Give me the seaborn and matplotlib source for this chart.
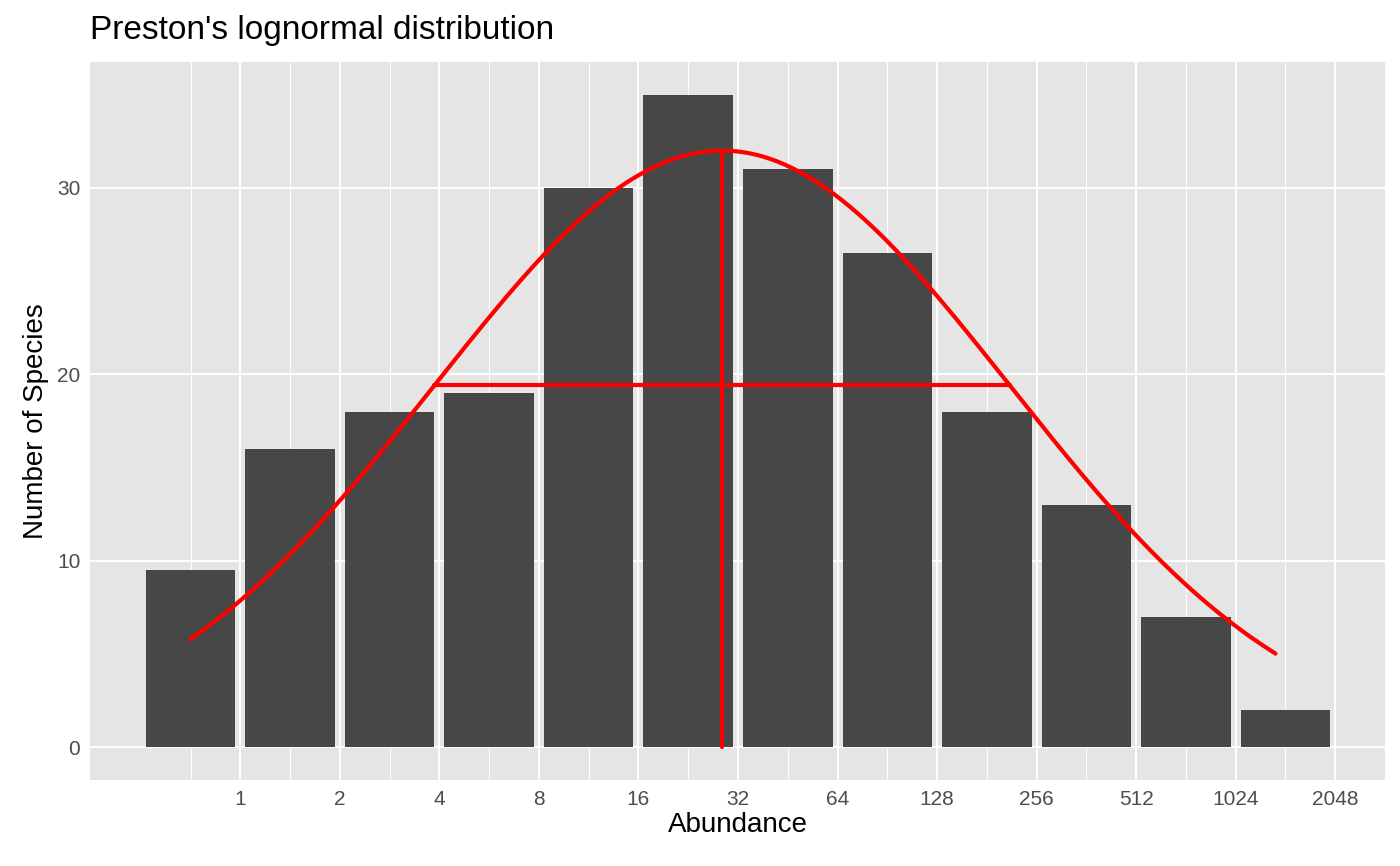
import numpy as np
import pandas as pd
import matplotlib
matplotlib.use("Agg")
import matplotlib.pyplot as plt
import seaborn as sns

octave_mid = [-0.5, 0.5, 1.5, 2.5, 3.5, 4.5, 5.5, 6.5, 7.5, 8.5, 9.5, 10.5]
species = [9.5, 16, 18, 19, 30, 35, 31, 26.5, 18, 13, 7, 2]
tick_labels = ["1", "2", "4", "8", "16", "32", "64", "128", "256", "512", "1024", "2048"]
mu, sigma, peak = 4.84, 2.89, 32.0

sns.set_theme(style="darkgrid", rc={"axes.facecolor": "#e5e5e5", "grid.color": "white"})
plt.rcParams['font.family'] = ['Liberation Sans', 'DejaVu Sans']

fig = plt.figure(figsize=(14, 8.66), dpi=100)
ax = fig.add_axes([90/1400, 1-780/866, (1385-90)/1400, (780-62)/866])

df = pd.DataFrame({"x": octave_mid, "y": species})
sns.barplot(data=df, x="x", y="y", native_scale=True, width=0.9, color="#474747",
            saturation=1, ax=ax, edgecolor="none")

xs = np.linspace(octave_mid[0], octave_mid[-1] - 0.1, 300)
curve = pd.DataFrame({"x": xs, "y": peak * np.exp(-(xs - mu) ** 2 / (2 * sigma ** 2))})
sns.lineplot(data=curve, x="x", y="y", color="red", lw=3, ax=ax)
h = peak * np.exp(-0.5)
ax.plot([mu - sigma, mu + sigma], [h, h], color="red", lw=3)
ax.plot([mu, mu], [0, peak], color="red", lw=3)

ax.set_xlim(-1.51, 11.46)
ax.set_ylim(-1.75, 36.75)
ax.set_xticks(range(0, 12))
ax.set_xticklabels(tick_labels)
ax.set_xticks(np.arange(-1, 12, 1) + 0.5, minor=True)
ax.set_yticks([0, 10, 20, 30])
ax.grid(which="major", lw=1.4, color="white")
ax.grid(which="minor", lw=0.7, color="white")
ax.tick_params(axis="both", which="major", labelsize=15, colors="#4d4d4d", length=4, width=1, pad=3)
ax.tick_params(axis="both", which="minor", length=0)
for s in ax.spines.values():
    s.set_visible(False)
ax.set_xlabel("Abundance", fontsize=20, color="black", labelpad=2)
ax.set_ylabel("Number of Species", fontsize=20, color="black", labelpad=6)
fig.text(90/1400, 1-30/866, "Preston's lognormal distribution", fontsize=24, va="center", color="black")
fig.savefig("out.png", dpi=100)
